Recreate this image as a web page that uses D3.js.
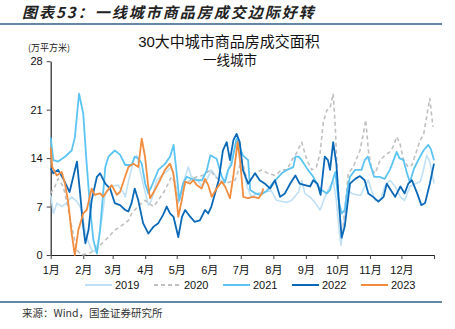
<!DOCTYPE html>
<html><head><meta charset="utf-8">
<script src="https://cdn.jsdelivr.net/npm/d3@7"></script>
<style>
body{margin:0;background:#fff;}
svg{display:block;font-family:"Liberation Sans","Noto Sans CJK SC",sans-serif;}
</style></head>
<body><svg id="c" width="455" height="329"></svg>
<script>
// ---- data (day of year, value in 万平方米) ----
const monthStarts = [0,31,59,90,120,151,181,212,243,273,304,334,365];
const monthLabels = ["1月","2月","3月","4月","5月","6月","7月","8月","9月","10月","11月","12月"];
const yTicks = [0,7,14,21,28];
const seriesNames = ["2019","2020","2021","2022","2023"];

const s2019 = [[0,8.7],[2.5,6],[6,7.5],[10.5,7],[15,7.5],[20,8.4],[25,7.7],[28,7],[31,5],[34,2.6],[39,0.7],[42,0.5],[45,1.7],[49,5.5],[52,8.9],[58,9.9],[64,10.1],[69,9.1],[71,8.4],[74,10.6],[79,13.7],[82,14.4],[85,12.3],[88,10.3],[93,7.2],[96,7.9],[101,10.8],[106,11.5],[110,12],[115,12.7],[118,10.8],[121.5,7.5],[126,10.3],[131,12.7],[134,11.3],[139,11],[144,9.9],[149,11],[153,12.3],[159,11],[165,10.5],[172,13.7],[177,16.6],[182,13.5],[187,9.9],[191,8.4],[197,8.9],[204,9.1],[210,9.3],[215,7.9],[221.5,7.7],[225,7.6],[229.5,7.9],[236,9.1],[239,10.8],[242,8.9],[247,8.4],[252,7.5],[256.5,6.5],[260,7.9],[264,9.4],[269,10.8],[272,7.9],[275,3.1],[276.5,1.4],[279.6,5],[283.4,9.4],[286.6,8.9],[291.4,8.7],[295,8.6],[299,9.9],[302.5,10.8],[305,9.5],[309,7.9],[314,7.9],[318,9.9],[323,10.8],[328,9.9],[333,8.4],[337,7.9],[342,9.9],[347,10.3],[352,10.6],[355,12.3],[358,14.4],[361,13.5],[365,10.3]];

const s2020 = [[0,8.9],[4,9.9],[7,11],[12,9.9],[15,7.9],[20,4.1],[25,0.7],[29.5,0],[36,0.2],[42,0.7],[49,1.7],[55,2.6],[61,3.6],[68,4.3],[74,5],[77,6],[83,7],[90,7.9],[93,7.5],[98,7],[102.5,7.9],[109,9.4],[115,11.3],[118,10.6],[121.5,7.5],[126,9.9],[133,10.8],[139,11.3],[145,11.5],[152,12.3],[156.5,11.3],[166,10.3],[175.5,10.8],[182,13.7],[188,10.3],[194.6,11.8],[201,12.3],[207,11.8],[213.6,11.5],[220,12.3],[225,12.3],[229.5,13.7],[234,14.7],[239,16.3],[244,13.7],[248.6,12.3],[253,12.7],[256.5,14.7],[259.6,19.2],[263,20.9],[266,21.2],[269,23.3],[271,18.5],[273,11.3],[275.5,5],[277.7,3.1],[280,6.5],[283.4,11.8],[288,12.7],[291,13.8],[294.5,15.1],[297.7,17.5],[300,19.5],[302.5,15.1],[305.7,12.3],[309,11.8],[313.6,13.7],[318.4,14.4],[323,14.9],[326,15.6],[329.5,17.1],[332.6,16.1],[336,13.7],[340.5,12.7],[344,13],[348.6,15.1],[351.7,16.6],[355,17.3],[358,20],[361,22.6],[364,18.5]];

const s2021 = [[0,17],[2.5,13.7],[7,13.5],[13.6,14.2],[20,15.1],[23,17],[27,23.3],[31,20.4],[34,13.7],[37.4,7],[40.6,2.2],[44,0.2],[47,3.6],[52,12.7],[55,14.2],[61,15.1],[66,14.5],[71,13],[77,13],[80,14.2],[83.4,14],[86.7,13.2],[90,10.3],[93,8.9],[96,9.9],[102.5,12.3],[109,13.2],[113.6,14.2],[117,15.9],[120,11.8],[122.5,7.9],[126,10.3],[129.5,11.3],[134,11],[139,10.8],[144,10.8],[148.6,12.2],[152,14.4],[158,13.9],[163,11.3],[166,10.5],[169,12.3],[172,13],[177,16.8],[180,15.6],[183,14.4],[188,13.7],[190,9.4],[195,8.9],[200,8.7],[206,9.3],[211,10.3],[220,11.8],[225,12.3],[231,12.7],[233,14.2],[236,14.2],[239,13.7],[245,12.3],[250,11.3],[254.8,9.9],[258,9.4],[263,8.9],[266,9.4],[269,11],[271,12],[274,8],[277,6],[280,6.5],[283,9.9],[285,11.3],[290,12.3],[296,12.3],[299,13.7],[302,14.2],[308,11.3],[313,11.3],[318,11],[323,12.3],[329.5,14.9],[332,14],[336,13.7],[339,12],[342,10.5],[346,12.5],[350,13.7],[355,15.1],[359.6,15.9],[362,15.3],[365,13.7]];

const s2022 = [[0,12.5],[2.5,11.8],[7,12.3],[12,11],[18,9.1],[25,13.5],[28,8.9],[31,4.1],[33,1.7],[36,3.6],[39,7.9],[44,11.3],[47,11.8],[52,10.3],[56.5,9.6],[61,7.5],[66,7.2],[71,6.5],[74,6.3],[77,7.5],[80,9.6],[83.4,7.9],[88,4.6],[93,3.1],[98,4.1],[102.5,4.6],[107,5.8],[110.5,7],[113.6,6],[117,5.5],[121.5,2.6],[125,5.5],[128,6.5],[133,5.5],[137,4.8],[142,5],[147,6.5],[150,6],[153,7],[160,10.8],[164,15.1],[167.6,16.3],[170.7,13.7],[174,16.6],[177,17.5],[180,16.3],[183,12.3],[188,10.3],[194.6,11.8],[199,10.8],[204,10.3],[209,9.6],[213.6,10.8],[218.4,8.4],[223,8.9],[228,10.3],[233,11.5],[237,10.3],[242,10.1],[247,9.9],[250,10.8],[254,10.3],[257,8.7],[261,14.2],[264,13.7],[266,12.3],[269,16.3],[272,13.2],[275,6.5],[277,2.5],[280,4.1],[285,10.3],[290,11],[294.5,11.4],[299,10.8],[302.5,8.9],[307,8.4],[312,7.7],[317,8.4],[320,10.3],[325,9.1],[328,8.4],[333,9.9],[337,8.9],[340.5,10.3],[344,10.8],[349,8.9],[353,7.2],[356.5,7.5],[361,10.3],[365,13.2]];

const s2023 = [[0,15.5],[1.5,12.7],[5.7,11.5],[10.5,12],[13.6,10.3],[16.8,7.5],[20,3.1],[23,0],[26.3,3.6],[31,6],[34.3,6.5],[39,9.6],[42,8.7],[47,8.9],[50,8.4],[53,9.1],[58,10.1],[63,8.7],[66,9.1],[70.8,11.3],[74,12.7],[78.7,13.2],[83.4,12.7],[86.7,16.8],[89.8,14.2],[92.9,9.9],[94.6,8.2],[99.3,9.4],[104,10.8],[108.8,12.3],[113.6,13.2],[116.8,11.8],[120,7.9],[121.5,5.5],[124.8,7.9],[128,10.6],[132.7,10.3],[135.8,10.8],[139,10.1],[143.8,9.6],[146.9,11],[150,10.1],[153.3,8.4],[158,9.6],[162.8,10.6],[166,9.9],[170.7,8.2],[174,11.5],[178,16.3],[180.3,13.7],[183.4,8.4],[188,8.2],[193,8.4],[198,8.2],[201,8.9],[202.5,9.6]];

const seriesData = [s2019, s2020, s2021, s2022, s2023];
const colors = ["#bfe0f5","#c0c0c0","#5cc4f2","#0a68b8","#f28c3e"];
const dashes = [null,"4,3",null,null,null];
const widths = [1.6,1.6,1.8,1.8,1.8];

// ---- drawing ----
const svg = d3.select("#c");
const x = d3.scaleLinear().domain([0,365]).range([50.7,434]);
const y = d3.scaleLinear().domain([0,28]).range([255,61.2]);

// header
svg.append("text").attr("x",22).attr("y",18)
  .attr("font-family","'Noto Sans CJK SC',sans-serif").attr("font-size",15)
  .attr("font-weight","bold").attr("font-style","italic").attr("letter-spacing",2)
  .attr("fill","#222").text("图表53：一线城市商品房成交边际好转");
svg.append("line").attr("x1",0).attr("x2",442).attr("y1",24).attr("y2",24)
  .attr("stroke","#2f5f86").attr("stroke-width",1.5);

svg.append("text").attr("x",229).attr("y",47).attr("text-anchor","middle")
  .attr("font-family","'Liberation Sans','Noto Sans CJK SC',sans-serif")
  .attr("font-size",15).attr("fill","#111").text("30大中城市商品房成交面积");
svg.append("text").attr("x",230).attr("y",65).attr("text-anchor","middle")
  .attr("font-family","'Noto Sans CJK SC',sans-serif")
  .attr("font-size",13.5).attr("fill","#111").text("一线城市");
svg.append("text").attr("x",28).attr("y",51)
  .attr("font-family","'Noto Sans CJK SC',sans-serif")
  .attr("font-size",9).attr("fill","#222").text("(万平方米)");

// axes
const yAxis = svg.append("g").attr("transform","translate(50.7,0)")
  .call(d3.axisLeft(y).tickValues(yTicks).tickSize(4).tickPadding(4).tickSizeOuter(0));
const xAxis = svg.append("g").attr("transform","translate(0,255)")
  .call(d3.axisBottom(x).tickValues(monthStarts).tickSize(4).tickPadding(7)
    .tickFormat((d,i)=> monthLabels[i] || "").tickSizeOuter(0));
[yAxis,xAxis].forEach(g=>{
  g.selectAll("path").attr("stroke","#222").attr("stroke-width",1.2);
  g.selectAll("line").attr("stroke","#444");
  g.selectAll("text").attr("font-size",11).attr("fill","#111")
   .attr("font-family","'Liberation Sans','Noto Sans CJK SC',sans-serif");
});

// lines
const line = d3.line().x(d=>x(d[0])).y(d=>y(d[1])).curve(d3.curveLinear);
seriesData.forEach((s,i)=>{
  svg.append("path").datum(s).attr("d",line).attr("fill","none")
    .attr("stroke",colors[i]).attr("stroke-width",widths[i])
    .attr("stroke-linejoin","round")
    .attr("stroke-dasharray",dashes[i]);
});

// legend
const legX = [85,154,223,292,361];
const leg = svg.append("g");
seriesNames.forEach((n,i)=>{
  leg.append("line").attr("x1",legX[i]).attr("x2",legX[i]+27).attr("y1",285).attr("y2",285)
    .attr("stroke",colors[i]).attr("stroke-width",2).attr("stroke-dasharray",dashes[i]);
  leg.append("text").attr("x",legX[i]+30).attr("y",289).attr("font-size",11)
    .attr("fill","#111").text(n);
});

// footer
svg.append("line").attr("x1",0).attr("x2",442).attr("y1",302).attr("y2",302)
  .attr("stroke","#2f5f86").attr("stroke-width",1.5);
svg.append("text").attr("x",22).attr("y",317)
  .attr("font-family","'Noto Sans CJK SC',sans-serif").attr("font-size",10.5)
  .attr("fill","#333").text("来源：Wind，国金证券研究所");
</script></body></html>
